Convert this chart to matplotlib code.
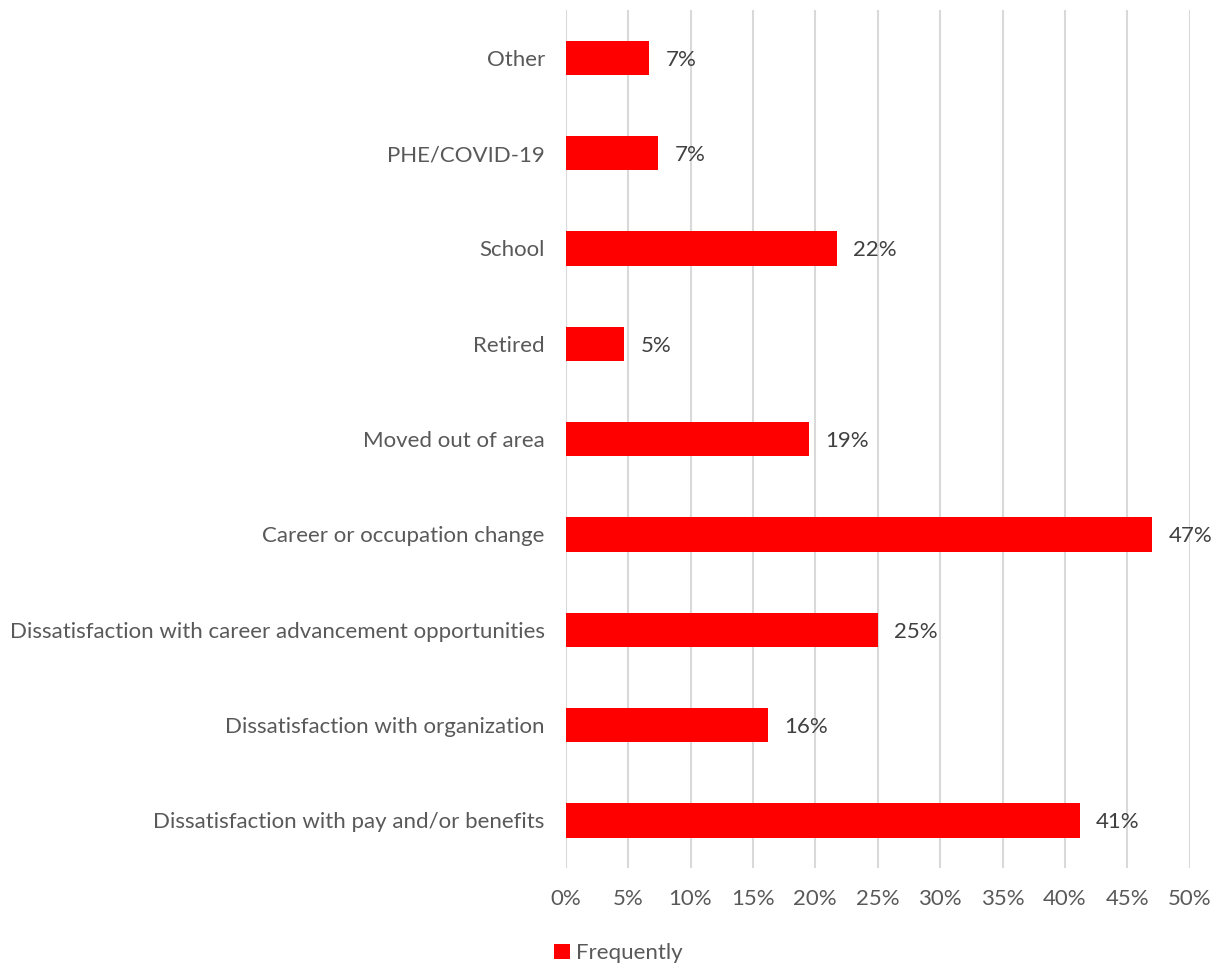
import numpy as np
import matplotlib.pyplot as plt

plt.rcParams['font.family'] = ['Lato', 'DejaVu Sans']

# Categories listed bottom to top
categories = [
    'Dissatisfaction with pay and/or benefits',
    'Dissatisfaction with organization',
    'Dissatisfaction with career advancement opportunities',
    'Career or occupation change',
    'Moved out of area',
    'Retired',
    'School',
    'PHE/COVID-19',
    'Other',
]
values = [41.2, 16.2, 25.0, 47.0, 19.5, 4.7, 21.7, 7.4, 6.7]
labels = ['41%', '16%', '25%', '47%', '19%', '5%', '22%', '7%', '7%']

fig = plt.figure(figsize=(12.25, 9.66), dpi=100)
ax = fig.add_axes([0.4618, 0.1014, 0.5094, 0.8882])

y = np.arange(len(categories))
bars = ax.barh(y, values, height=0.36, color='#ff0000', zorder=3, label='Frequently')

for b, lab in zip(bars, labels):
    ax.text(b.get_width() + 1.3, b.get_y() + b.get_height() / 2, lab,
            va='center_baseline', ha='left', fontsize=16, color='#404040')

ax.set_xlim(0, 50)
ax.set_ylim(-0.5, len(categories) - 0.5)
ax.set_xticks(np.arange(0, 51, 5))
ax.set_xticklabels([f'{v}%' for v in range(0, 51, 5)])
ax.set_yticks(y)
ax.set_yticklabels(categories)
ax.tick_params(axis='both', length=0, labelsize=16, colors='#595959')
ax.tick_params(axis='x', pad=15)
ax.tick_params(axis='y', pad=15)
ax.grid(axis='x', color='#d9d9d9', linewidth=1.5, zorder=0)
for s in ax.spines.values():
    s.set_visible(False)

fig.legend(loc='center', bbox_to_anchor=(0.505, 0.013), frameon=False,
           fontsize=16, labelcolor='#595959', handlelength=0.7, handleheight=0.7,
           handletextpad=0.3)

fig.savefig('out.png', dpi=100)
